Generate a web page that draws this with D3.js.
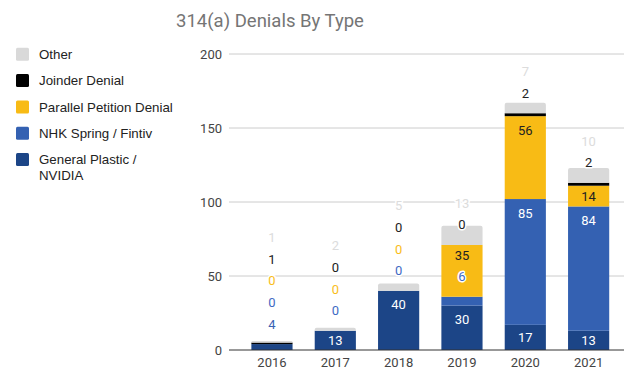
<!DOCTYPE html>
<html>
<head>
<meta charset="utf-8">
<script src="https://cdn.jsdelivr.net/npm/d3@7"></script>
<style>
  html, body { margin: 0; padding: 0; background: #fff; }
  svg { display: block; font-family: Roboto, "Noto Sans", Arial, sans-serif; }
</style>
</head>
<body>
<svg id="chart" width="626" height="372"></svg>
<script>
// Denials per year, broken down by type (bottom of stack first)
const years = ["2016", "2017", "2018", "2019", "2020", "2021"];
const generalPlastic = [4, 13, 40, 30, 17, 13];
const nhkFintiv      = [0, 0, 0, 6, 85, 84];
const parallelPet    = [0, 0, 0, 35, 56, 14];
const joinder        = [1, 0, 0, 0, 2, 2];
const other          = [1, 2, 5, 13, 7, 10];
const yTicks = [0, 50, 100, 150, 200];

const series = [
  { name: "General Plastic / NVIDIA", values: generalPlastic, color: "#1c4587", inText: "#ffffff", outText: "#3a62b4" },
  { name: "NHK Spring / Fintiv",      values: nhkFintiv,      color: "#3461b2", inText: "#ffffff", outText: "#3f6ac4" },
  { name: "Parallel Petition Denial", values: parallelPet,    color: "#f8bb15", inText: "#222222", outText: "#f9bd1a" },
  { name: "Joinder Denial",           values: joinder,        color: "#000000", inText: "#ffffff", outText: "#222222" },
  { name: "Other",                    values: other,          color: "#d9d9d9", inText: "#222222", outText: "#dcdcdc" }
];

const svg = d3.select("#chart");

const x = d3.scaleBand().domain(years).range([240.3, 620.3]).paddingInner(0.35).paddingOuter(0.175);
const y = d3.scaleLinear().domain([0, 200]).range([350, 54]);
const plotLeft = 229, plotRight = 624;

// Title
svg.append("text")
  .attr("x", 270).attr("y", 27)
  .attr("text-anchor", "middle")
  .attr("font-size", 18.5)
  .attr("fill", "#757575")
  .text("314(a) Denials By Type");

// Gridlines and y tick labels
const yAxis = d3.axisLeft(y).tickValues(yTicks).tickSize(0).tickPadding(7);
const gy = svg.append("g").attr("transform", `translate(${plotLeft},0)`).call(yAxis);
gy.select(".domain").remove();
gy.selectAll("text").attr("font-size", 13).attr("fill", "#444").attr("font-family", "Roboto, sans-serif");
svg.append("g").selectAll("line").data(yTicks.filter(d => d > 0)).join("line")
  .attr("x1", plotLeft).attr("x2", plotRight)
  .attr("y1", d => y(d)).attr("y2", d => y(d))
  .attr("stroke", "#cccccc").attr("stroke-width", 1);

// Stacked bars
const stackData = years.map((yr, i) => {
  let base = 0;
  const segs = series.map(s => {
    const seg = { year: yr, s, v: s.values[i], b0: base, b1: base + s.values[i] };
    base += s.values[i];
    return seg;
  });
  return { year: yr, segs, total: base };
});

const barG = svg.append("g");
stackData.forEach(col => {
  const x0 = x(col.year), w = x.bandwidth();
  const nonZero = col.segs.filter(d => d.v > 0);
  const topSeg = nonZero[nonZero.length - 1];
  nonZero.forEach(d => {
    const yTop = y(d.b1), yBot = y(d.b0);
    if (d === topSeg) {
      const r = Math.min(2, (yBot - yTop));
      const p = d3.path();
      p.moveTo(x0, yBot);
      p.lineTo(x0, yTop + r);
      p.quadraticCurveTo(x0, yTop, x0 + r, yTop);
      p.lineTo(x0 + w - r, yTop);
      p.quadraticCurveTo(x0 + w, yTop, x0 + w, yTop + r);
      p.lineTo(x0 + w, yBot);
      p.closePath();
      barG.append("path").attr("d", p.toString()).attr("fill", d.s.color);
    } else {
      barG.append("rect")
        .attr("x", x0).attr("width", w)
        .attr("y", yTop).attr("height", yBot - yTop)
        .attr("fill", d.s.color);
    }
  });
});

// Baseline
svg.append("line")
  .attr("x1", plotLeft).attr("x2", plotRight)
  .attr("y1", y(0)).attr("y2", y(0))
  .attr("stroke", "#333").attr("stroke-width", 1);

// X axis labels
const xAxis = d3.axisBottom(x).tickSize(0).tickPadding(8);
const gx = svg.append("g").attr("transform", `translate(0,${y(0)})`).call(xAxis);
gx.select(".domain").remove();
gx.selectAll("text").attr("font-size", 13).attr("fill", "#444").attr("font-family", "Roboto, sans-serif");

// Value labels: inside the segment when it fits, otherwise stacked above with spacing
const labelG = svg.append("g").attr("font-size", 13).attr("text-anchor", "middle");
const gap = 21.7;
stackData.forEach(col => {
  const cx = x(col.year) + x.bandwidth() / 2;
  let prev = Infinity;
  col.segs.forEach(d => {
    const yTop = y(d.b1), yBot = y(d.b0);
    const h = yBot - yTop;
    const fits = h >= 14;
    const desired = fits ? Math.min(yTop + 14, (yTop + yBot) / 2) : yTop - 20;
    const ly = Math.min(desired, prev - gap);
    const inside = fits && ly >= yTop + 7;
    prev = ly;
    const t = labelG.append("text")
      .attr("x", cx).attr("y", ly)
      .attr("dy", "0.35em")
      .attr("fill", inside ? d.s.inText : d.s.outText)
      .text(d.v);
    if (!inside) {
      t.attr("stroke", "#ffffff").attr("stroke-width", 3)
       .attr("stroke-linejoin", "round").attr("paint-order", "stroke");
    }
  });
});

// Legend
const legendOrder = series.slice().reverse();
const lg = svg.append("g").attr("font-family", "'Liberation Sans', Arial, sans-serif");
legendOrder.forEach((s, i) => {
  const cy = 54.3 + i * 26.3;
  lg.append("rect")
    .attr("x", 16).attr("y", cy - 6.5).attr("width", 13).attr("height", 13)
    .attr("rx", 1.5).attr("fill", s.color);
  const lines = s.name === "General Plastic / NVIDIA" ? ["General Plastic /", "NVIDIA"] : [s.name];
  lines.forEach((ln, j) => {
    lg.append("text")
      .attr("x", 39).attr("y", cy + j * 15.7)
      .attr("dy", "0.35em")
      .attr("font-size", 13.3).attr("fill", "#222")
      .text(ln);
  });
});
</script>
</body>
</html>
